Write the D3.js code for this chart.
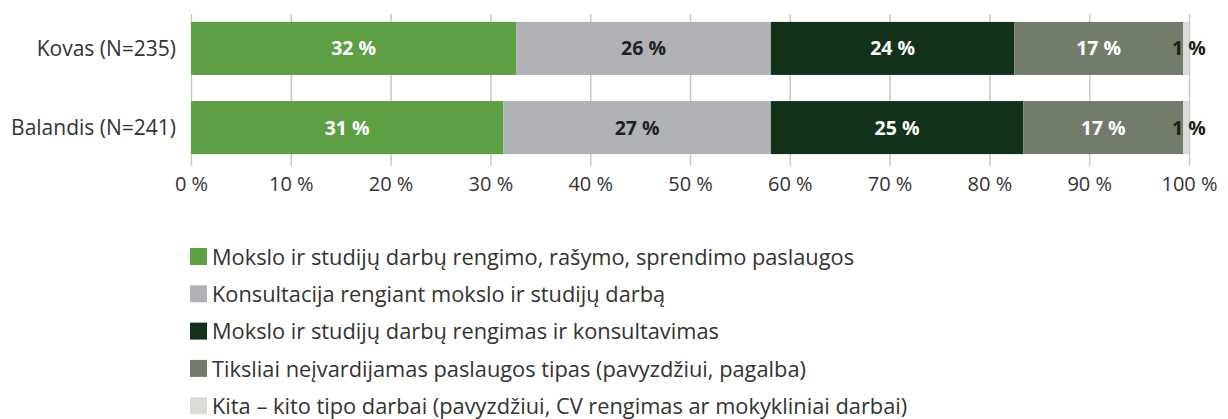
<!DOCTYPE html>
<html>
<head>
<meta charset="utf-8">
<script src="https://cdn.jsdelivr.net/npm/d3@7"></script>
<style>
  body { margin: 0; background: #fff; }
  text { font-family: "Open Sans", Lato, sans-serif; }
</style>
</head>
<body>
<div id="chart"></div>
<script>
//Categories and Series
let categories = ["Kovas (N=235)", "Balandis (N=241)"];
let seriesNames = [
  "Mokslo ir studijų darbų rengimo, rašymo, sprendimo paslaugos",
  "Konsultacija rengiant mokslo ir studijų darbą",
  "Mokslo ir studijų darbų rengimas ir konsultavimas",
  "Tiksliai neįvardijamas paslaugos tipas (pavyzdžiui, pagalba)",
  "Kita – kito tipo darbai (pavyzdžiui, CV rengimas ar mokykliniai darbai)"
];
//Values per series, one value per category
let valMokslo = [32.6, 31.3];
let valKonsult = [25.5, 26.8];
let valRengimas = [24.4, 25.3];
let valTiksliai = [16.9, 16.0];
let valKita = [0.6, 0.6];
//Labels shown on the segments
let labelsKovas = ["32 %", "26 %", "24 %", "17 %", "1 %"];
let labelsBalandis = ["31 %", "27 %", "25 %", "17 %", "1 %"];
let tickValues = [0, 10, 20, 30, 40, 50, 60, 70, 80, 90, 100];

let colors = ["#5d9f43", "#b1b2b6", "#13321a", "#717c6b", "#dcdcd7"];
let labelColors = ["#ffffff", "#231f20", "#ffffff", "#ffffff", "#231f20"];

let svgWidth = 1228;
let svgHeight = 419;

let margin = { top: 14, left: 191, right: 39 };
let width = svgWidth - margin.left - margin.right;

let svg = d3.select("#chart")
  .append("svg")
  .attr("width", svgWidth)
  .attr("height", svgHeight);

//Build table for stacking
let allValues = [valMokslo, valKonsult, valRengimas, valTiksliai, valKita];
let allLabels = [labelsKovas, labelsBalandis];
let table = categories.map((c, i) => {
  let row = { cat: c, idx: i };
  seriesNames.forEach((s, j) => { row[s] = allValues[j][i]; });
  return row;
});
let stacked = d3.stack().keys(seriesNames)(table);

let x = d3.scaleLinear().domain([0, 100]).range([margin.left, margin.left + width]);
let y = d3.scaleBand()
  .domain(categories)
  .range([14, 162])
  .paddingInner(0.33)
  .paddingOuter(0.1);

//Gridlines / axis
let axis = svg.append("g")
  .attr("transform", `translate(0, 14)`)
  .call(d3.axisBottom(x)
    .tickValues(tickValues)
    .tickSize(152)
    .tickFormat(d => d + " %"));
axis.select(".domain").remove();
axis.selectAll(".tick line").attr("stroke", "#c8c8ca").attr("stroke-width", 1.5);
axis.selectAll(".tick text")
  .attr("y", 163)
  .attr("dy", "0.71em")
  .style("font-size", "20px")
  .attr("fill", "#333");

//Bars
let layers = svg.selectAll("g.layer")
  .data(stacked)
  .enter()
  .append("g")
  .attr("class", "layer")
  .attr("fill", (d, i) => colors[i]);

layers.selectAll("rect")
  .data(d => d)
  .enter()
  .append("rect")
  .attr("x", d => x(d[0]))
  .attr("y", d => y(d.data.cat))
  .attr("width", d => x(d[1]) - x(d[0]))
  .attr("height", y.bandwidth());

//Segment labels
stacked.forEach((layer, j) => {
  svg.selectAll(null)
    .data(layer)
    .enter()
    .append("text")
    .attr("x", d => (x(d[0]) + x(d[1])) / 2 + (j === 4 ? 3 : 0))
    .attr("y", d => y(d.data.cat) + y.bandwidth() / 2)
    .attr("dy", "0.36em")
    .style("text-anchor", "middle")
    .style("font-size", "19.5px")
    .style("font-weight", "bold")
    .attr("fill", labelColors[j])
    .text(d => allLabels[d.data.idx][j]);
});

//Category labels
svg.selectAll(null)
  .data(categories)
  .enter()
  .append("text")
  .attr("x", 176)
  .attr("y", d => y(d) + y.bandwidth() / 2)
  .attr("dy", "0.36em")
  .style("text-anchor", "end")
  .style("font-size", "21px")
  .attr("fill", "#333")
  .text(d => d);

//Legend
let legend = svg.selectAll("g.legend")
  .data(seriesNames)
  .enter()
  .append("g")
  .attr("class", "legend")
  .attr("transform", (d, i) => `translate(190, ${257 + i * 37.3})`);

legend.append("rect")
  .attr("x", 0)
  .attr("y", -9)
  .attr("width", 17)
  .attr("height", 17)
  .attr("fill", (d, i) => colors[i]);

legend.append("text")
  .attr("x", 22)
  .attr("y", 0)
  .attr("dy", "0.36em")
  .style("font-size", "21.8px")
  .attr("fill", "#333")
  .text(d => d);
</script>
</body>
</html>
